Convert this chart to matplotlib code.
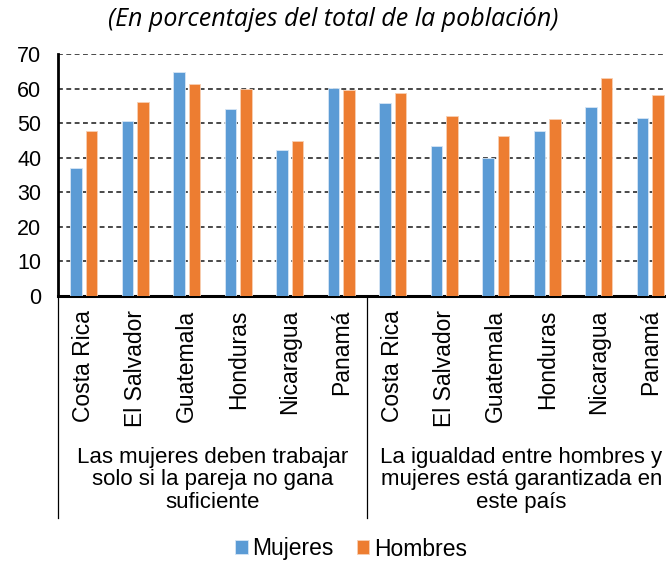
import numpy as np
import matplotlib.pyplot as plt
from matplotlib.lines import Line2D

plt.rcParams['font.family'] = ['Liberation Sans', 'DejaVu Sans']
plt.rcParams['lines.scale_dashes'] = False

paises = ["Costa Rica", "El Salvador", "Guatemala", "Honduras", "Nicaragua", "Panamá"]
grupos = ["Las mujeres deben trabajar\nsolo si la pareja no gana\nsuficiente",
          "La igualdad entre hombres y\nmujeres está garantizada en\neste país"]
mujeres = [37.0, 50.6, 64.8, 54.0, 42.1, 60.2,
           55.7, 43.4, 40.0, 47.7, 54.6, 51.5]
hombres = [47.8, 56.2, 61.2, 59.8, 44.8, 59.6,
           58.8, 52.2, 46.4, 51.1, 63.0, 58.1]
etiquetas = paises + paises

azul = '#5B9BD5'
naranja = '#ED7D31'

fig = plt.figure(figsize=(6.66, 5.61), dpi=100)
ax = fig.add_axes([58 / 666, 1 - 296 / 561, 618 / 666, 242 / 561])

x = np.arange(len(etiquetas))
w = 0.215
ax.bar(x - 0.15, mujeres, w, color=azul, edgecolor='#d6e6f5', linewidth=0.6,
       label='Mujeres', zorder=3)
ax.bar(x + 0.15, hombres, w, color=naranja, edgecolor='#f8cfb3', linewidth=0.6,
       label='Hombres', zorder=3)

ax.set_xlim(-0.5, len(etiquetas) - 0.5)
ax.set_ylim(0, 70)
ax.set_yticks(range(0, 71, 10))
ax.yaxis.grid(True, color='#3a3a3a', linestyle=(0, (3.5, 2.5)), linewidth=1.3)
ax.set_axisbelow(True)

for s in ['top', 'right']:
    ax.spines[s].set_visible(False)
ax.spines['left'].set_linewidth(2)
ax.spines['bottom'].set_linewidth(2.2)
ax.spines['left'].set_color('black')
ax.spines['bottom'].set_color('black')

ax.tick_params(axis='y', length=0, pad=12, labelsize=15.5)
ax.set_xticks(x)
ax.set_xticklabels(etiquetas, rotation=90, fontsize=16.5, va='top')
ax.tick_params(axis='x', length=0, pad=10)

# separadores de grupos
for xs in [0, 0.5, 1.0]:
    ax.add_line(Line2D([xs, xs], [0, -0.917], transform=ax.transAxes,
                       color='black', linewidth=0.9, clip_on=False))

for i, g in enumerate(grupos):
    ax.text(0.25 + 0.5 * i, -0.76, g, transform=ax.transAxes, ha='center',
            va='center', fontsize=16, linespacing=1.1)

fig.text(0.5, 1 - 20 / 561, "(En porcentajes del total de la población)",
         ha='center', va='center', fontsize=18, style='italic',
         family=['Open Sans', 'DejaVu Sans'])

fig.legend(loc='center', bbox_to_anchor=(351 / 666, 1 - 549 / 561), ncol=2,
           frameon=False, fontsize=16.5, handlelength=0.55, handleheight=0.55,
           handletextpad=0.2, columnspacing=1.0, borderaxespad=0)

fig.savefig('out.png', dpi=100)
